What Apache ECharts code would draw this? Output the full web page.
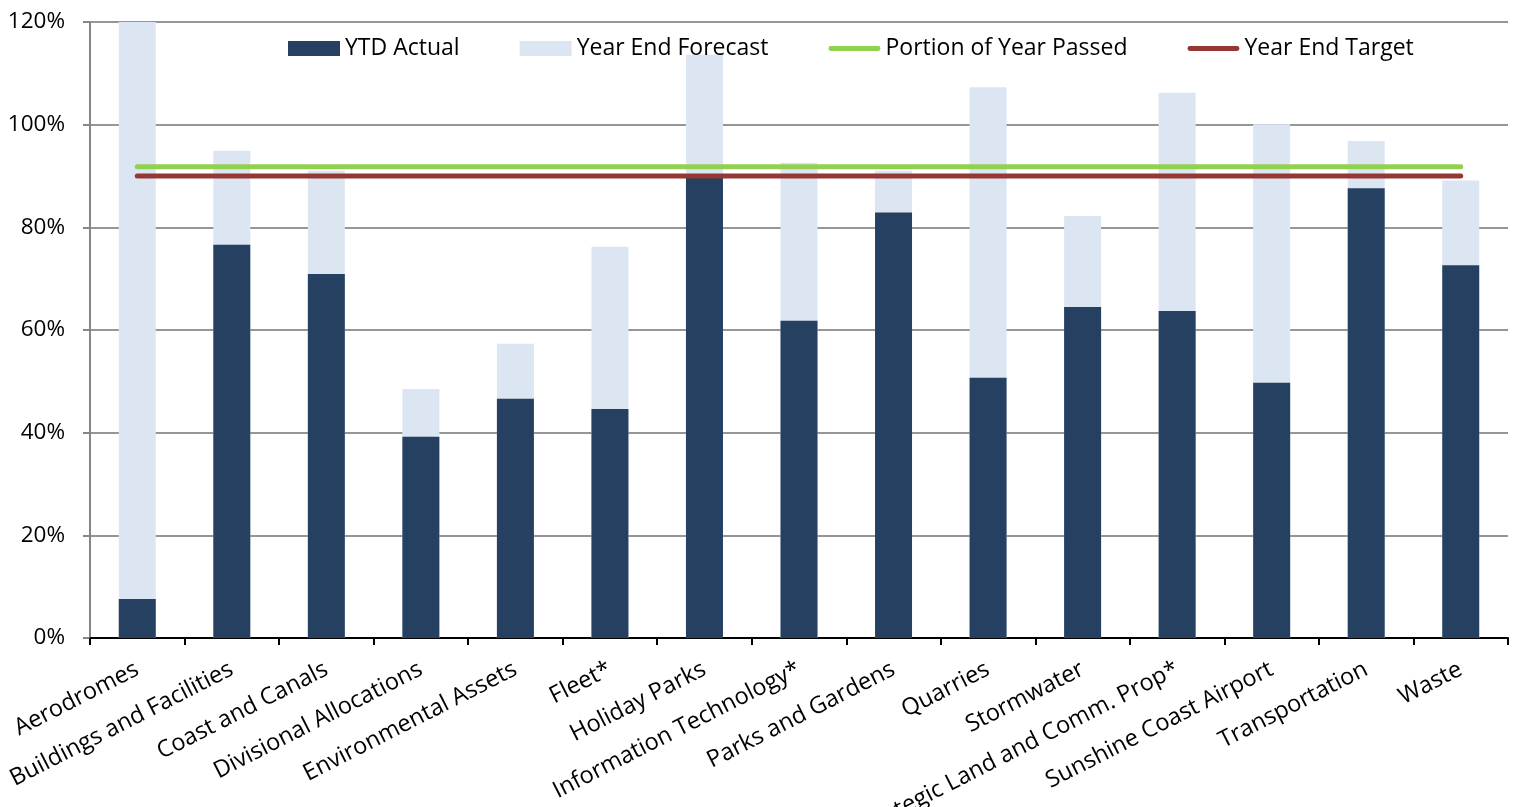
<!DOCTYPE html>
<html>
<head>
<meta charset="utf-8">
<script src="https://cdn.jsdelivr.net/npm/echarts@6/dist/echarts.min.js"></script>
<style>
  html, body { margin: 0; padding: 0; background: #fff; overflow: hidden; }
  #chart { width: 1519px; height: 807px; }
</style>
</head>
<body>
<div id="chart"></div>
<script>
// Capital works progress by program area (% of annual budget)
const categories = [
  'Aerodromes', 'Buildings and Facilities', 'Coast and Canals', 'Divisional Allocations',
  'Environmental Assets', 'Fleet*', 'Holiday Parks', 'Information Technology*',
  'Parks and Gardens', 'Quarries', 'Stormwater', 'Strategic Land and Comm. Prop*',
  'Sunshine Coast Airport', 'Transportation', 'Waste'
];
const ytdActual = [7.6, 76.6, 70.9, 39.2, 46.6, 44.6, 89.8, 61.8, 82.9, 50.7, 64.5, 63.7, 49.7, 87.6, 72.6];
const yearEndForecast = [120, 94.9, 91.0, 48.5, 57.3, 76.2, 113.6, 92.6, 91.0, 107.3, 82.2, 106.2, 100.1, 96.8, 89.1];
const portionOfYearPassed = 91.8;
const yearEndTarget = 90;
const yTicks = { min: 0, max: 120, interval: 20 };

const FONT = '"Open Sans"';
// thin horizontal bar used as the legend marker of the two reference lines
const LINE_ICON = 'path://M2,0 L50,0 A2.5,2.5 0 0 1 50,5 L2,5 A2.5,2.5 0 0 1 2,0 Z';

const chart = echarts.init(document.getElementById('chart'));

chart.setOption({
  animation: false,
  textStyle: { fontFamily: FONT },
  grid: { left: 90, right: 11, top: 22, height: 616, containLabel: false, outerBoundsMode: 'none' },
  legend: {
    left: 288, top: 37, padding: 0,
    itemWidth: 52, itemHeight: 15, itemGap: 60,
    textStyle: { fontFamily: FONT, fontSize: 23, color: '#000' },
    data: [
      { name: 'YTD Actual', icon: 'rect' },
      { name: 'Year End Forecast', icon: 'rect' },
      { name: 'Portion of Year Passed', icon: LINE_ICON },
      { name: 'Year End Target', icon: LINE_ICON }
    ]
  },
  xAxis: {
    type: 'category',
    data: categories,
    boundaryGap: true,
    axisLine: { lineStyle: { color: '#000', width: 2 } },
    axisTick: { show: true, alignWithLabel: false, length: 7, lineStyle: { color: '#000', width: 2 } },
    axisLabel: { interval: 0, rotate: 27, margin: 30, fontFamily: FONT, fontSize: 23.5, color: '#000' }
  },
  yAxis: {
    type: 'value',
    min: yTicks.min, max: yTicks.max, interval: yTicks.interval,
    axisLine: { show: true, lineStyle: { color: '#868686', width: 2 } },
    axisTick: { show: true, length: 7, lineStyle: { color: '#868686', width: 2 } },
    axisLabel: { formatter: '{value}%', margin: 25, fontFamily: FONT, fontSize: 22.5, color: '#000' },
    splitLine: { lineStyle: { color: '#969696', width: 2 } }
  },
  series: [
    {
      name: 'Year End Forecast', type: 'bar', barWidth: 37, barGap: '-100%',
      itemStyle: { color: '#DCE6F2' },
      data: yearEndForecast, z: 2
    },
    {
      name: 'YTD Actual', type: 'bar', barWidth: 37, barGap: '-100%',
      itemStyle: { color: '#264061' },
      data: ytdActual, z: 3
    },
    {
      name: 'Portion of Year Passed', type: 'line', symbol: 'none',
      lineStyle: { color: '#92D050', width: 5, cap: 'round' },
      itemStyle: { color: '#92D050' },
      data: categories.map(() => portionOfYearPassed), z: 4
    },
    {
      name: 'Year End Target', type: 'line', symbol: 'none',
      lineStyle: { color: '#953735', width: 5, cap: 'round' },
      itemStyle: { color: '#953735' },
      data: categories.map(() => yearEndTarget), z: 4
    }
  ]
});
</script>
</body>
</html>
